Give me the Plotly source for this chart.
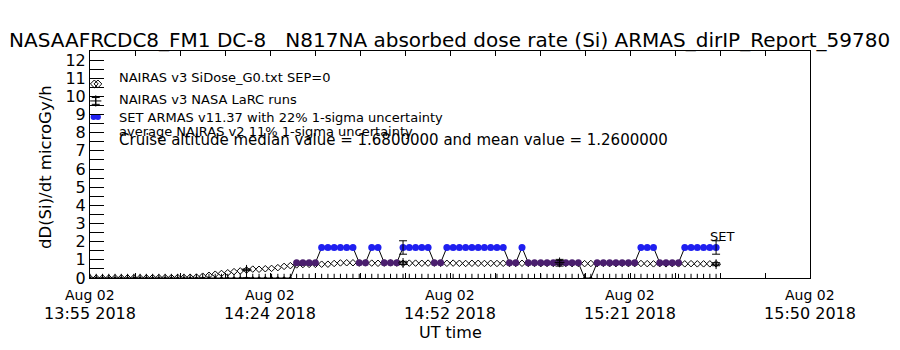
import plotly.graph_objects as go
import pandas as pd

# ---------------- data ----------------
t0 = pd.Timestamp("2018-08-02 13:55:00")
n_pts = 101
times = [t0 + pd.Timedelta(minutes=i) for i in range(n_pts)]

# ARMAS dose rate (microGy/h), 1-minute cadence
armas = ([0.0] * 33 + [0.84] * 4 + [1.68] * 6 + [0.84] * 2 + [1.68] * 2 +
         [0.84] * 3 + [1.68] * 5 + [0.84] * 2 + [1.68] * 10 + [0.84] * 2 +
         [1.68] * 1 + [0.84] * 9 + [0.0] * 2 + [0.84] * 7 + [1.68] * 3 +
         [0.84] * 4 + [1.68] * 6)

# NAIRAS v3 SiDose_G0 (SEP=0)
nairas_g0 = [0.00, 0.00, 0.00, 0.00, 0.01, 0.01, 0.01, 0.01, 0.01, 0.01,
             0.02, 0.02, 0.02, 0.02, 0.03, 0.03, 0.04, 0.05, 0.10, 0.15,
             0.21, 0.25, 0.29, 0.35, 0.39, 0.44, 0.49, 0.48, 0.51, 0.53,
             0.57, 0.64, 0.68, 0.72, 0.74, 0.75, 0.75, 0.76, 0.76, 0.80,
             0.83, 0.84, 0.84, 0.82, 0.83, 0.82, 0.81, 0.82, 0.83, 0.82,
             0.81, 0.82, 0.82, 0.81, 0.82, 0.82, 0.81, 0.81, 0.82, 0.81,
             0.80, 0.81, 0.81, 0.80, 0.81, 0.80, 0.81, 0.80, 0.80, 0.81,
             0.80, 0.80, 0.79, 0.80, 0.80, 0.79, 0.80, 0.79, 0.80, 0.79,
             0.80, 0.79, 0.80, 0.79, 0.79, 0.80, 0.79, 0.79, 0.80, 0.79,
             0.78, 0.79, 0.78, 0.79, 0.78, 0.78, 0.79, 0.78, 0.78, 0.78,
             0.78]

# NAIRAS v3 NASA LaRC runs
larc_idx = [25, 50, 75, 100]
larc_val = [0.45, 0.83, 0.86, 0.76]
larc_err_frac = 0.11

# ARMAS 1-sigma uncertainty shown at the LaRC comparison times
armas_err_frac = 0.22

# axis ticks
x_tick_vals = [t0 + pd.Timedelta(seconds=1725 * k) for k in range(5)]
x_tick_top = ["Aug 02"] * 5
x_tick_bottom = ["13:55 2018", "14:24 2018", "14:52 2018", "15:21 2018", "15:50 2018"]
x_range = [t0, t0 + pd.Timedelta(minutes=115)]
y_range = [0, 12.5]

title_text = ("NASAAFRCDC8_FM1 DC-8\u00a0\u00a0\u00a0N817NA absorbed dose rate (Si) "
              "ARMAS_dirIP_Report_59780")
legend_lines = ["NAIRAS v3 SiDose_G0.txt SEP=0",
                "NAIRAS v3 NASA LaRC runs",
                "SET ARMAS v11.37 with 22% 1-sigma uncertainty",
                "average NAIRAS v2 11% 1-sigma uncertainty",
                "Cruise altitude median value = 1.6800000 and mean value = 1.2600000"]

# ---------------- styling ----------------
FONT = "DejaVu Sans"
BLUE = "#1f1ff0"
PURPLE = "#4a1e6e"


def level_color(v):
    if v >= 1.2:
        return BLUE
    if v > 0.0:
        return PURPLE
    return "black"


def level_size(v):
    return 7 if v > 0 else 3


fig = go.Figure()

# tick-like marks at the bottom for every sample
fig.add_trace(go.Scatter(
    x=times, y=[0.0] * n_pts, mode="markers",
    marker=dict(symbol="line-ns-open", size=6, color="black", opacity=1,
                line=dict(width=1, color="black")),
    hoverinfo="skip", showlegend=False))

# NAIRAS G0 diamonds
fig.add_trace(go.Scatter(
    x=times, y=nairas_g0, mode="markers",
    marker=dict(symbol="diamond-open", size=5, color="black", opacity=1,
                line=dict(width=1, color="black")),
    showlegend=False))

# ARMAS connecting line
fig.add_trace(go.Scatter(
    x=times, y=armas, mode="lines",
    line=dict(color="black", width=1), showlegend=False))

# ARMAS symbols
fig.add_trace(go.Scatter(
    x=times, y=armas, mode="markers",
    marker=dict(symbol="circle", size=[level_size(v) for v in armas], opacity=1,
                color=[level_color(v) for v in armas], line=dict(width=0)),
    showlegend=False))

# ARMAS error bars at comparison times
fig.add_trace(go.Scatter(
    x=[times[i] for i in larc_idx], y=[armas[i] for i in larc_idx],
    mode="markers", marker=dict(size=1, color="rgba(0,0,0,0)"),
    error_y=dict(type="data", array=[armas[i] * armas_err_frac for i in larc_idx],
                 color="black", thickness=1, width=4),
    showlegend=False))

# LaRC runs
fig.add_trace(go.Scatter(
    x=[times[i] for i in larc_idx], y=larc_val, mode="markers",
    marker=dict(symbol="cross-thin-open", size=7, color="black", opacity=1,
                line=dict(width=1, color="black")),
    error_y=dict(type="data", array=[v * larc_err_frac for v in larc_val],
                 color="black", thickness=1, width=4),
    showlegend=False))

# legend glyphs in an overlay paper-like axis
fig.add_trace(go.Scatter(
    x=[0.006, 0.011], y=[0.855, 0.855], xaxis="x2", yaxis="y2", mode="markers",
    marker=dict(symbol="diamond-open", size=6, color="black", opacity=1,
                line=dict(width=1, color="black")), showlegend=False))
fig.add_trace(go.Scatter(
    x=[0.008], y=[0.78], xaxis="x2", yaxis="y2", mode="markers",
    marker=dict(symbol="cross-thin-open", size=8, color="black", opacity=1,
                line=dict(width=1, color="black")),
    error_y=dict(type="constant", value=0.015, color="black", thickness=1, width=4),
    showlegend=False))
fig.add_trace(go.Scatter(
    x=[0.005, 0.011], y=[0.709, 0.709], xaxis="x2", yaxis="y2", mode="markers",
    marker=dict(symbol="circle", size=6, color=BLUE, opacity=1), showlegend=False))

annotations = []
legend_y_px = [77, 99, 117, 131, 140]
legend_sizes = [13, 13, 13, 13, 15]
for txt, ypx, fs in zip(legend_lines, legend_y_px, legend_sizes):
    annotations.append(dict(
        text=txt, xref="paper", yref="paper", x=(117 - 90) / 720,
        y=(278 - ypx) / 227, xanchor="left", yanchor="middle", showarrow=False,
        font=dict(family=FONT, size=fs, color="black")))

for tv, tt in zip(x_tick_vals, x_tick_top):
    annotations.append(dict(
        text=tt, xref="x", yref="paper", x=tv, y=(278 - 295) / 227,
        xanchor="center", yanchor="middle", showarrow=False,
        font=dict(family=FONT, size=14, color="black")))

annotations.append(dict(
    text="SET", xref="x", yref="y", x=times[-1], y=2.26, xshift=6,
    xanchor="center", yanchor="middle", showarrow=False,
    font=dict(family=FONT, size=13, color="black")))

annotations.append(dict(
    text="UT time", xref="paper", yref="paper", x=0.5, y=(278 - 332) / 227,
    xanchor="center", yanchor="middle", showarrow=False,
    font=dict(family=FONT, size=16, color="black")))

annotations.append(dict(
    text="dD(Si)/dt microGy/h", xref="paper", yref="paper",
    x=(45 - 90) / 720, y=(278 - 167) / 227, textangle=-90,
    xanchor="center", yanchor="middle", showarrow=False,
    font=dict(family=FONT, size=16.5, color="black")))

annotations.append(dict(
    text=title_text, xref="paper", yref="paper", x=(449 - 90) / 720,
    y=(278 - 40) / 227, xanchor="center", yanchor="middle", showarrow=False,
    font=dict(family=FONT, size=20, color="black")))

fig.update_layout(
    width=900, height=350,
    margin=dict(l=90, r=90, t=51, b=72),
    paper_bgcolor="white", plot_bgcolor="white",
    font=dict(family=FONT, size=14, color="black"),
    showlegend=False,
    annotations=annotations,
    xaxis=dict(
        type="date", range=x_range, tickmode="array",
        tickvals=x_tick_vals, ticktext=x_tick_bottom,
        ticks="inside", ticklen=5, tickcolor="black", tickwidth=1,
        showline=True, linecolor="black", linewidth=1, mirror="ticks",
        showgrid=False, zeroline=False, ticklabelstandoff=21,
        tickfont=dict(family=FONT, size=16),
        minor=dict(tickmode="linear", tick0=t0, dtick=431250,
                   ticks="inside", ticklen=5, tickcolor="black", showgrid=False),
    ),
    yaxis=dict(
        range=y_range, tickmode="linear", tick0=0, dtick=1,
        ticks="inside", ticklen=14, tickcolor="black", tickwidth=1,
        showline=True, linecolor="black", linewidth=1, mirror=True,
        showgrid=False, zeroline=False,
        tickfont=dict(family=FONT, size=16),
        minor=dict(tickmode="linear", tick0=0, dtick=0.5,
                   ticks="inside", ticklen=14, tickcolor="black", showgrid=False),
    ),
    xaxis2=dict(overlaying="x", range=[0, 1], visible=False, fixedrange=True),
    yaxis2=dict(overlaying="y", range=[0, 1], visible=False, fixedrange=True),
)

fig.write_html("out.html")
